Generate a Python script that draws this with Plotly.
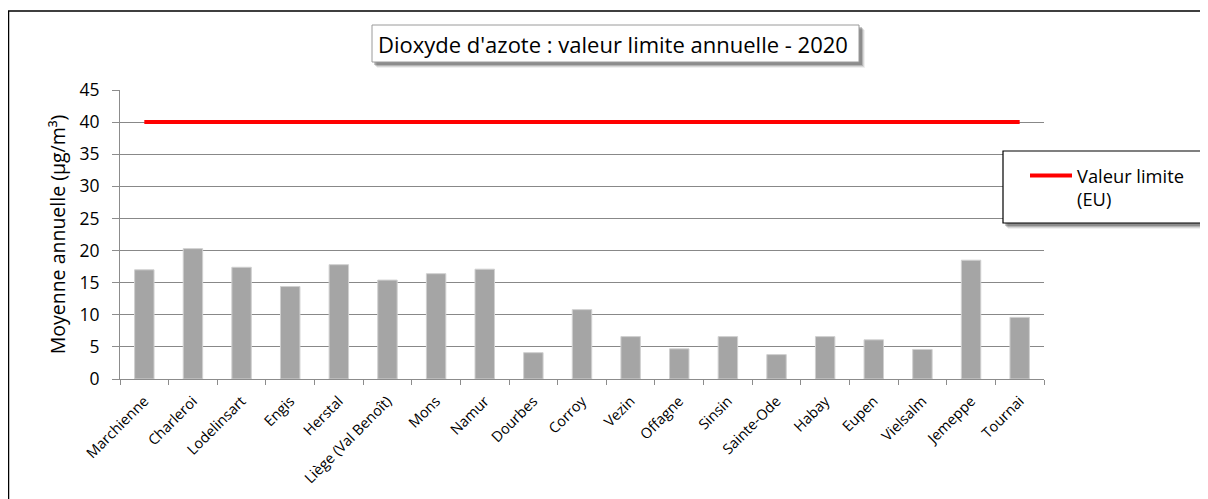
import plotly.graph_objects as go

stations = ["Marchienne", "Charleroi", "Lodelinsart", "Engis", "Herstal",
            "Liège (Val Benoît)", "Mons", "Namur", "Dourbes", "Corroy",
            "Vezin", "Offagne", "Sinsin", "Sainte-Ode", "Habay", "Eupen",
            "Vielsalm", "Jemeppe", "Tournai"]
no2_mean = [17.0, 20.3, 17.4, 14.4, 17.8, 15.4, 16.4, 17.1, 4.1, 10.8,
            6.6, 4.7, 6.6, 3.8, 6.6, 6.1, 4.6, 18.5, 9.6]
limit_value = 40
y_ticks = [0, 5, 10, 15, 20, 25, 30, 35, 40, 45]

FONT = "Open Sans"
OFF = 8  # page body margin
W_FIG, H_FIG = 1200, 491
# plot area in page pixels
L, R, T, B = 120, 1044, 90, 379
PW, PH = R - L, B - T


def px2x(px):
    return (px - L) / PW


def px2y(py):
    return (B - py) / PH


fig = go.Figure()
fig.add_trace(go.Bar(
    x=stations, y=no2_mean, name="NO2",
    marker=dict(color="#A5A5A5", line=dict(color="#D0D0D0", width=1)),
    showlegend=False,
))
fig.add_trace(go.Scatter(
    x=stations, y=[limit_value] * len(stations), mode="lines",
    name="Valeur limite<br>(EU)",
    line=dict(color="#FF0000", width=4),
))

shapes = []
# outer frame
shapes.append(dict(type="rect", xref="paper", yref="paper",
                   x0=px2x(8.5), x1=px2x(1240), y0=px2y(530), y1=px2y(11),
                   line=dict(color="black", width=1.5), fillcolor="rgba(0,0,0,0)"))


def boxed(x0, x1, y0, y1, border, bw):
    out = []
    for off, alpha in [(6, 0.06), (5, 0.10), (4, 0.16), (3, 0.22)]:
        out.append(dict(type="rect", xref="paper", yref="paper",
                        x0=px2x(x0 + off - 1), x1=px2x(x1 + off),
                        y0=px2y(y1 + off), y1=px2y(y0 + off - 1),
                        line=dict(width=0), fillcolor=f"rgba(0,0,0,{alpha})",
                        layer="above"))
    out.append(dict(type="rect", xref="paper", yref="paper",
                    x0=px2x(x0), x1=px2x(x1), y0=px2y(y1), y1=px2y(y0),
                    line=dict(color=border, width=bw), fillcolor="white",
                    layer="above"))
    return out


shapes += boxed(372, 859, 25, 62, "#9A9A9A", 1)
shapes += boxed(1003, 1205, 151, 223, "black", 1.2)

fig.update_layout(
    width=W_FIG, height=H_FIG,
    margin=dict(l=L - OFF, r=W_FIG - (R - OFF), t=T - OFF, b=H_FIG - (B - OFF),
                autoexpand=False),
    paper_bgcolor="white", plot_bgcolor="white",
    font=dict(family=FONT, color="black"),
    bargap=0.6,
    shapes=shapes,
    annotations=[dict(
        xref="paper", yref="paper", x=px2x(613), y=px2y(44),
        text="Dioxyde d'azote : valeur limite annuelle - 2020",
        showarrow=False, xanchor="center", yanchor="middle",
        font=dict(family=FONT, size=22, color="black"),
    )],
    showlegend=True,
    legend=dict(
        x=px2x(1025), y=px2y(157), xanchor="left", yanchor="top",
        bgcolor="rgba(0,0,0,0)", borderwidth=0,
        font=dict(family=FONT, size=18.3, color="black"),
        valign="top", itemwidth=42,
    ),
    xaxis=dict(
        type="category", tickson="boundaries", ticks="outside", ticklen=5,
        tickcolor="#8C8C8C", showline=True, linecolor="#8C8C8C", linewidth=1,
        showgrid=False, tickangle=-45, tickfont=dict(family=FONT, size=14.5),
        ticklabelstandoff=7,
    ),
    yaxis=dict(
        range=[0, 45], tickvals=y_ticks, ticks="outside", ticklen=7,
        tickcolor="#8C8C8C", showline=True, linecolor="#8C8C8C", linewidth=1,
        showgrid=True, gridcolor="#888888", gridwidth=1, zeroline=False,
        tickfont=dict(family=FONT, size=17.5), ticklabelstandoff=9,
        title=dict(text="Moyenne annuelle (µg/m³)",
                   font=dict(family=FONT, size=19.5), standoff=8),
    ),
)

fig.write_html("out.html")
